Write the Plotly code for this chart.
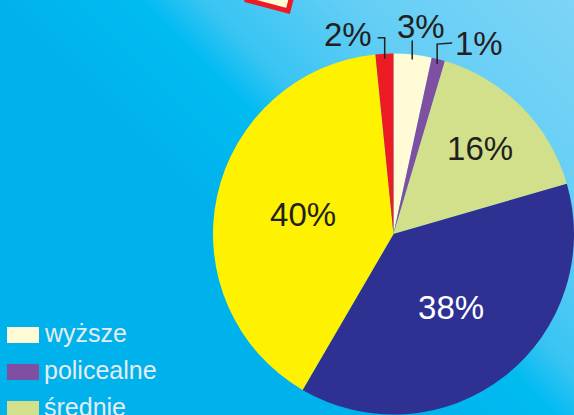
import base64, struct, zlib, math
import plotly.graph_objects as go

# ---- data ----
categories = ["wyższe", "policealne", "średnie", "zasadnicze zawodowe", "gimnazjalne i podstawowe", "niepełne podstawowe"]
values = [3.4, 1.2, 15.9, 37.9, 40.0, 1.6]
colors = ["#FFFBD7", "#7F4FA1", "#D3E08B", "#2E3192", "#FFF200", "#ED1C24"]
text_colors = ["#231F20", "#231F20", "#231F20", "#FFFFFF", "#231F20", "#231F20"]
outside = [True, True, False, False, False, True]

W, H = 574, 415
DOM_X, DOM_Y = [0.3711, 1.0], [0.0, 0.872]

# ---- background gradient (diagonal, lighter toward top-right) ----
stops = [(0, (0, 178, 236)), (140, (0, 187, 240)), (200, (55, 196, 243)), (350, (100, 206, 245)), (600, (128, 213, 247))]
def col(t):
    for (t0, c0), (t1, c1) in zip(stops, stops[1:]):
        if t <= t1:
            f = max(0.0, (t - t0) / (t1 - t0))
            return tuple(int(round(a + (b - a) * f)) for a, b in zip(c0, c1))
    return stops[-1][1]
rows = []
for y in range(H):
    row = bytearray(b"\x00")
    for x in range(W):
        row += bytes(col(x - y))
    rows.append(bytes(row))
raw = b"".join(rows)
def chunk(tag, data):
    c = struct.pack(">I", len(data)) + tag + data
    return c + struct.pack(">I", zlib.crc32(tag + data) & 0xffffffff)
png = b"\x89PNG\r\n\x1a\n" + chunk(b"IHDR", struct.pack(">IIBBBBB", W, H, 8, 2, 0, 0, 0)) + chunk(b"IDAT", zlib.compress(raw, 9)) + chunk(b"IEND", b"")
bg = "data:image/png;base64," + base64.b64encode(png).decode()

fig = go.Figure()
fig.add_trace(go.Pie(
    labels=categories, values=values, sort=False, direction="clockwise", rotation=0,
    marker=dict(colors=colors, line=dict(width=0)),
    texttemplate=["" if o else "%{percent:.0%}" for o in outside],
    textposition="inside", automargin=False,
    insidetextorientation="horizontal",
    textfont=dict(family="Liberation Sans, Arial", size=33, color=text_colors),
    domain=dict(x=DOM_X, y=DOM_Y),
    showlegend=False, hoverinfo="label+percent",
))

fig.add_layout_image(dict(source=bg, xref="paper", yref="paper", x=0, y=1, sizex=1, sizey=1,
                          sizing="stretch", xanchor="left", yanchor="top", layer="below"))

def px(x, y):
    return x / W, 1 - y / H

# decorative red-framed box at the top (cut off)
pts = [px(247, 0), px(288, 11), px(300, -35), px(259, -46)]
path = "M " + " L ".join(f"{a},{b}" for a, b in pts) + " Z"
fig.add_shape(type="path", path=path, xref="paper", yref="paper",
              fillcolor="#FFFBD7", line=dict(color="#ED1C24", width=5))

# outside labels with elbow leader lines, anchored at each slice's mid angle
cx = W * (DOM_X[0] + DOM_X[1]) / 2
cy = H - H * (DOM_Y[0] + DOM_Y[1]) / 2
rad = min(W * (DOM_X[1] - DOM_X[0]), H * (DOM_Y[1] - DOM_Y[0])) / 2
total = sum(values)
# style per outside slice: (rise of leader, horizontal arm, text side)
leader_style = {0: (-19, 0, "top"), 1: (-20, 15, "right"), 5: (-21, -7, "left")}
cum = 0.0
for i, v in enumerate(values):
    mid = (cum + v / 2) / total * 2 * math.pi
    cum += v
    if not outside[i]:
        continue
    ax = cx + (rad - 5) * math.sin(mid)
    ay = cy - (rad - 5) * math.cos(mid)
    rise, arm, side = leader_style[i]
    ex, ey = ax, ay + rise
    fx, fy = ex + arm, ey - (1 if arm > 0 else 0)
    p = [px(ax, ay), px(ex, ey), px(fx, fy)]
    fig.add_shape(type="path", xref="paper", yref="paper",
                  path="M " + " L ".join(f"{a},{b}" for a, b in p),
                  line=dict(color="#231F20", width=1.5))
    lab = f"{round(v / total * 100)}%"
    if side == "top":
        tx, ty, xa, ya = fx + 9, fy + 5, "center", "bottom"
    elif side == "right":
        tx, ty, xa, ya = fx + 2, fy, "left", "middle"
    else:
        tx, ty, xa, ya = fx - 5, fy - 3, "right", "middle"
    tpx, tpy = px(tx, ty)
    fig.add_annotation(x=tpx, y=tpy, xref="paper", yref="paper", text=lab, showarrow=False,
                       xanchor=xa, yanchor=ya, borderpad=0,
                       font=dict(family="Liberation Sans, Arial", size=33, color="#231F20"))

# legend (manual; the page is cut at the bottom, so only the entries that start on it are drawn)
for i, (lab, c) in enumerate(zip(categories, colors)):
    yc = 335 + 37 * i
    if yc - 8 >= H:
        break
    fig.add_shape(type="rect", xref="paper", yref="paper",
                  x0=7 / W, x1=39 / W, y0=1 - (yc + 8) / H, y1=1 - (yc - 8) / H,
                  fillcolor=c, line=dict(width=0))
    fig.add_annotation(x=42 / W, y=1 - (yc - 2) / H, xref="paper", yref="paper",
                       text=lab, showarrow=False, xanchor="left", yanchor="middle",
                       font=dict(family="Liberation Sans, Arial", size=25, color="#E6ECF3"))

fig.update_layout(width=W, height=H, margin=dict(l=0, r=0, t=0, b=0, pad=0, autoexpand=False),
                  paper_bgcolor="#00B9EF", plot_bgcolor="#00B9EF")
fig.write_html("out.html", config={"displayModeBar": False},
               post_script="document.body.style.margin='0';document.body.style.overflow='hidden';")
